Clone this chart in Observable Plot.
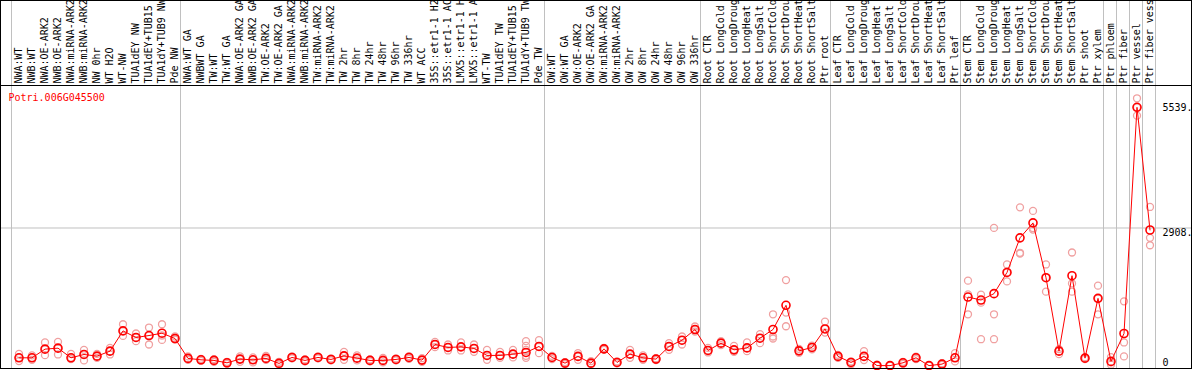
<!DOCTYPE html>
<html>
<head>
<meta charset="utf-8">
<script src="https://cdn.jsdelivr.net/npm/d3@7"></script>
<script src="https://cdn.jsdelivr.net/npm/@observablehq/plot@0.6"></script>
<style>
  html, body { margin: 0; padding: 0; background: #fff; }
  svg { display: block; }
</style>
</head>
<body>
<div id="chart"></div>
<script>
const geneId = "Potri.006G045500";

const samples = [
  "NWA:WT", "NWB:WT", "NWA:OE-ARK2", "NWB:OE-ARK2", "NWA:miRNA-ARK2", "NWB:miRNA-ARK2",
  "NW 0hr", "WT H2O", "WT-NW", "TUA1dEY NW", "TUA1dEY+TUB15 NW", "TUA1dY+TUB9 NW", "Pde NW",
  "NWA:WT GA", "NWBWT GA", "TW:WT", "TW:WT GA", "NWA:OE-ARK2 GA", "NWB:OE-ARK2 GA",
  "TW:OE-ARK2", "TW:OE-ARK2 GA", "NWA:miRNA-ARK2", "NWB:miRNA-ARK2", "TW:miRNA-ARK2", "TW:miRNA-ARK2",
  "TW 2hr", "TW 8hr", "TW 24hr", "TW 48hr", "TW 96hr", "TW 336hr", "WT ACC",
  "35S::etr1-1 H2O", "35S::etr1-1 ACC", "LMX5::etr1-1 H2O", "LMX5::etr1-1 ACC",
  "WT-TW", "TUA1dEY TW", "TUA1dEY+TUB15 TW", "TUA1dY+TUB9 TW", "Pde TW",
  "OW:WT", "OW:WT GA", "OW:OE-ARK2", "OW:OE-ARK2 GA", "OW:miRNA-ARK2", "OW:miRNA-ARK2",
  "OW 2hr", "OW 8hr", "OW 24hr", "OW 48hr", "OW 96hr", "OW 336hr",
  "Root CTR", "Root LongCold", "Root LongDrought", "Root LongHeat", "Root LongSalt",
  "Root ShortCold", "Root ShortDrought", "Root ShortHeat", "Root ShortSalt", "Ptr root",
  "Leaf CTR", "Leaf LongCold", "Leaf LongDrought", "Leaf LongHeat", "Leaf LongSalt",
  "Leaf ShortCold", "Leaf ShortDrought", "Leaf ShortHeat", "Leaf ShortSalt", "Ptr leaf",
  "Stem CTR", "Stem LongCold", "Stem LongDrought", "Stem LongHeat", "Stem LongSalt",
  "Stem ShortCold", "Stem ShortDrought", "Stem ShortHeat", "Stem ShortSalt", "Ptr shoot", "Ptr xylem",
  "Ptr phloem", "Ptr fiber", "Ptr vessel", "Ptr fiber vessel"
];

const means = [
  167, 167, 353, 374, 167, 239, 203, 310, 744, 603, 645, 695, 581,
  154, 124, 111, 60, 139, 124, 154, 47, 175, 111, 175, 132, 209, 160, 111, 111, 132, 175, 118,
  453, 389, 402, 368, 218, 218, 246, 282, 410,
  175, 53, 197, 53, 359, 68, 246, 167, 139, 410, 545, 774,
  325, 481, 338, 380, 588, 774, 1293, 316, 389, 786,
  197, 68, 197, 0, 0, 60, 167, 0, 32, 167,
  1470, 1406, 1543, 1998, 2740, 3060, 1885, 310, 1928, 160, 1442,
  90, 688, 5539, 2908
];

const replicates = [
  [252, 167, 96], [218, 167, 124], [496, 353, 224], [509, 374, 239], [252, 167, 139],
  [338, 239, 111], [252, 203, 167], [380, 310, 239], [887, 744, 637], [688, 603, 524],
  [816, 645, 453], [887, 645, 551], [624, 581, 560],
  [197, 154, 124], [145, 124, 103], [139, 111, 82], [82, 60, 40], [197, 139, 82],
  [175, 124, 68], [209, 154, 124], [82, 47, 20], [197, 175, 154], [132, 111, 90],
  [197, 175, 154], [154, 132, 111], [295, 209, 124], [218, 160, 111], [132, 111, 90],
  [167, 111, 68], [154, 132, 111], [203, 175, 146], [160, 118, 82],
  [509, 453, 396], [453, 389, 325], [496, 402, 325], [453, 368, 295], [338, 218, 124],
  [295, 218, 167], [338, 246, 175], [524, 424, 338, 209, 167], [545, 410, 267],
  [209, 175, 139], [75, 53, 30], [267, 197, 124], [96, 53, 30], [380, 359, 338],
  [90, 68, 47], [338, 246, 167], [218, 167, 124], [160, 139, 118], [481, 410, 338],
  [624, 545, 453], [838, 774, 730],
  [380, 325, 282], [524, 481, 438], [424, 338, 295], [496, 380, 310], [673, 588, 481],
  [1100, 624, 581], [1834, 1137, 844], [360, 316, 275], [430, 389, 350], [944, 786, 709],
  [230, 197, 165], [90, 68, 30], [310, 197, 118], [20, 0, 0], [10, 0, 0],
  [80, 60, 40], [190, 167, 140], [10, 0, 0], [50, 32, 15], [267, 167, 90],
  [1821, 1528, 1100], [1521, 1350, 566], [2953, 1100, 566], [2169, 1998, 1806],
  [3394, 2419, 2400], [3317, 2917, 2950], [2169, 1885, 1586], [352, 310, 246],
  [2425, 1763, 1586], [180, 160, 140], [1714, 1442, 1100],
  [182, 70, 20], [1378, 496, 197], [5732, 5539, 5360], [3402, 2740, 2581]
];

// indices where a new sample group starts (plus the end)
const groupStarts = [0, 13, 41, 53, 63, 73, 84, 85, 86, 87, 88];

const yTickValues = [0, 2908, 5539];
const yTickLabels = ["0", "2908.", "5539."];

const meanData = means.map((v, i) => ({i, v}));
const repData = replicates.flatMap((r, i) => r.map(v => ({i, v})));

const tickAnchors = ["bottom", "top", "middle"];
const tickShift = [0, -1, 0];

const chart = Plot.plot({
  width: 1194,
  height: 370,
  marginTop: 85,
  marginBottom: 2,
  marginLeft: 0,
  marginRight: 3,
  style: {fontFamily: "DejaVu Sans Mono", fontSize: "10px", background: "white", overflow: "hidden", color: "black"},
  x: {type: "linear", domain: [-0.5, samples.length - 0.5], range: [12, 1156], axis: null},
  y: {domain: [0, 5539], range: [365.1, 106.8], axis: null},
  marks: [
    Plot.ruleX(groupStarts, {x: d => d - 0.5, stroke: "#c0c0c0", strokeWidth: 1, dx: -1, insetTop: -85}),
    Plot.ruleY([yTickValues[1]], {stroke: "#c0c0c0", strokeWidth: 1, dy: -2}),
    Plot.dot(repData, {x: "i", y: "v", r: 3.5, stroke: "#f0a0a0", strokeWidth: 1.3, fill: "none"}),
    Plot.line(meanData, {x: "i", y: "v", stroke: "#ff0000", strokeWidth: 1}),
    Plot.dot(meanData, {x: "i", y: "v", r: 4, stroke: "#ff0000", strokeWidth: 1.6, fill: "none"}),
    Plot.axisX({
      anchor: "top",
      ticks: d3.range(samples.length),
      tickFormat: i => samples[i],
      tickRotate: -90,
      tickSize: 0,
      tickPadding: 2,
      label: null,
      fill: "black"
    }),
    Plot.text([geneId], {frameAnchor: "top-left", dx: 8, dy: 15, lineAnchor: "bottom", textAnchor: "start", fill: "#ff0000"}),
    ...yTickValues.map((v, k) => Plot.text([v], {
      y: d => d,
      text: () => yTickLabels[k],
      frameAnchor: "right",
      textAnchor: "start",
      lineAnchor: tickAnchors[k],
      dx: -29,
      dy: tickShift[k],
      fill: "black"
    })),
    Plot.frame({stroke: "black"}),
    Plot.frame({stroke: "black", insetTop: -85})
  ]
});

document.getElementById("chart").append(chart);
</script>
</body>
</html>
